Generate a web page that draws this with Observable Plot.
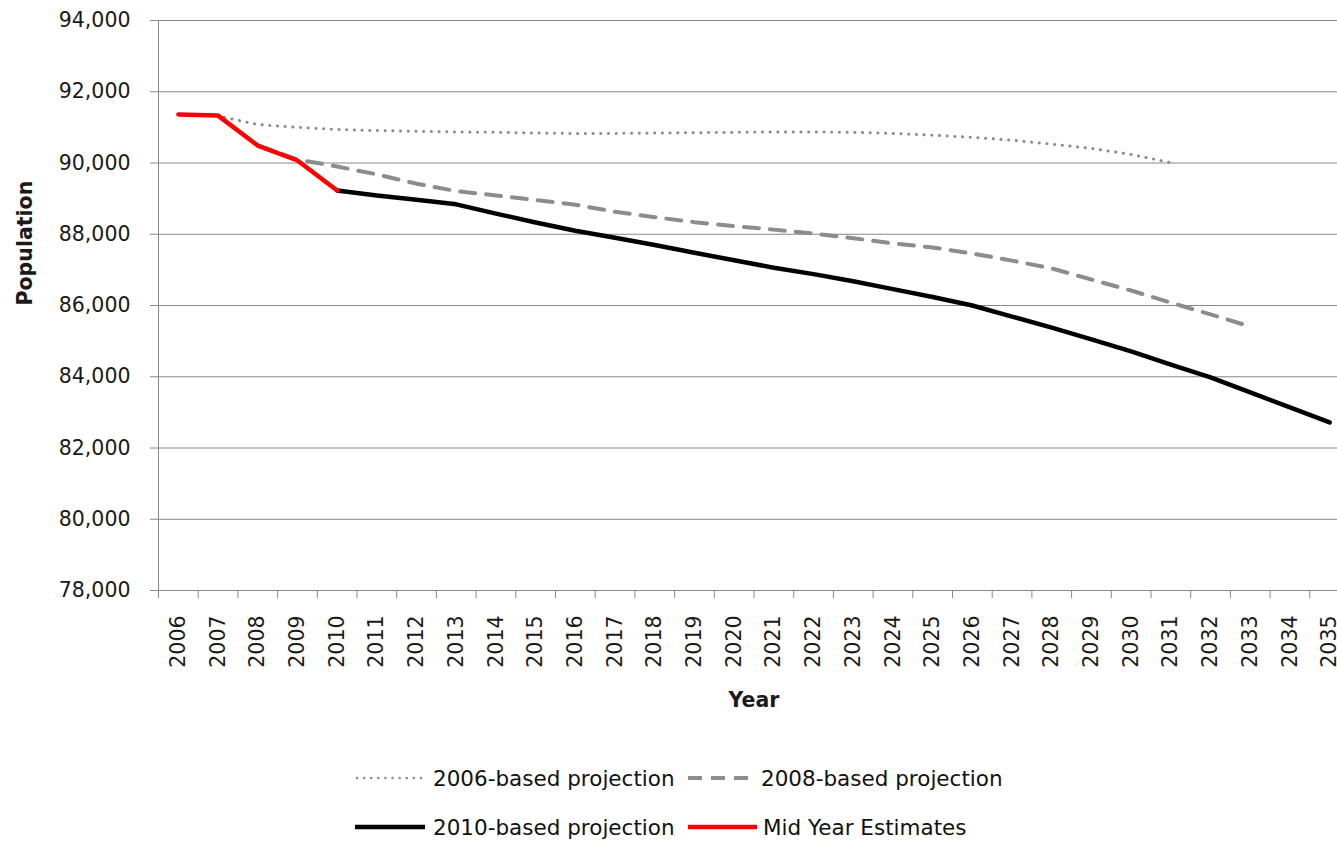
<!DOCTYPE html>
<html>
<head>
<meta charset="utf-8">
<script src="https://cdn.jsdelivr.net/npm/d3@7"></script>
<script src="https://cdn.jsdelivr.net/npm/@observablehq/plot@0.6"></script>
<style>
html, body { margin: 0; padding: 0; background: #fff; overflow: hidden; }
#wrap { position: relative; width: 1337px; height: 842px; overflow: hidden; font-family: "DejaVu Sans", sans-serif; }
#chart svg { max-width: none !important; }
#chart [aria-label="y-axis tick"], #chart [aria-label="x-axis tick"] { stroke: #888; }
.item { position: absolute; height: 30px; display: flex; align-items: center; font-size: 21.5px; color: #111; white-space: nowrap; }
.item svg { display: block; }
</style>
</head>
<body>
<div id="wrap">
  <div id="chart"></div>
  <div id="legend"></div>
</div>
<script>
// Categories (years)
const years = [2006, 2007, 2008, 2009, 2010, 2011, 2012, 2013, 2014, 2015,
               2016, 2017, 2018, 2019, 2020, 2021, 2022, 2023, 2024, 2025,
               2026, 2027, 2028, 2029, 2030, 2031, 2032, 2033, 2034, 2035];

// 2006-based projection: 2006–2031
const proj2006 = [91360, 91320, 91080, 91000, 90940, 90910, 90890, 90870, 90860, 90840,
                  90830, 90830, 90840, 90850, 90860, 90870, 90870, 90860, 90830, 90780,
                  90720, 90640, 90530, 90410, 90240, 90010];
// 2008-based projection: 2008–2033
const proj2008 = [90490, 90100, 89900, 89680, 89420, 89210, 89090, 88960, 88830, 88630,
                  88480, 88340, 88230, 88130, 88020, 87890, 87740, 87630, 87460, 87260,
                  87040, 86730, 86420, 86080, 85750, 85410];
// 2010-based projection: 2010–2035
const proj2010 = [89230, 89090, 88970, 88840, 88580, 88330, 88100, 87900, 87700, 87480,
                  87270, 87060, 86880, 86680, 86460, 86240, 86000, 85690, 85380, 85050,
                  84710, 84340, 83980, 83560, 83140, 82720];
// Mid Year Estimates: 2006–2010
const midYear = [91360, 91330, 90490, 90070, 89230];

const yTicks = [78000, 80000, 82000, 84000, 86000, 88000, 90000, 92000, 94000];

const seriesNames = ["2006-based projection", "2008-based projection", "2010-based projection", "Mid Year Estimates"];

function rows(values, startYear) {
  const s = years.indexOf(startYear);
  return values.map((v, i) => ({year: years[s + i], value: v}));
}
const d2006 = rows(proj2006, 2006);
const d2008 = rows(proj2008, 2008);
const d2010 = rows(proj2010, 2010);
const dMid = rows(midYear, 2006);

const bounds = years.map(y => y - 0.5).concat([years[years.length - 1] + 0.5]);
const fmt = d3.format(",");

const chart = Plot.plot({
  width: 1349,
  height: 730,
  marginLeft: 158,
  marginRight: 0,
  marginTop: 20,
  marginBottom: 140,
  style: {fontFamily: "'DejaVu Sans', sans-serif", fontSize: "20.5px", color: "#1a1a1a", background: "#fff", overflow: "visible"},
  x: {domain: [bounds[0], bounds[bounds.length - 1]]},
  y: {domain: [78000, 94000]},
  marks: [
    Plot.gridY(yTicks, {stroke: "#888", strokeOpacity: 1, strokeWidth: 1}),
    Plot.ruleX([bounds[0]], {stroke: "#888", strokeWidth: 1}),
    Plot.axisY(yTicks, {tickSize: 8, tickPadding: 20, tickFormat: fmt, label: null}),
    Plot.axisX(bounds, {tickSize: 8, tickFormat: () => "", label: null}),
    Plot.axisX(years, {tickSize: 0, tickPadding: 25, tickRotate: -90, tickFormat: d => String(d), label: null}),
    Plot.line(d2006, {x: "year", y: "value", stroke: "#8a8a8a", strokeWidth: 3, strokeDasharray: "0.1 7.6", strokeLinecap: "round"}),
    Plot.line(d2008, {x: "year", y: "value", stroke: "#8c8c8c", strokeWidth: 4, strokeDasharray: "15 11"}),
    Plot.line(d2010, {x: "year", y: "value", stroke: "#000", strokeWidth: 4.5}),
    Plot.line(dMid, {x: "year", y: "value", stroke: "#ff0000", strokeWidth: 4.5}),
    Plot.text(["Year"], {text: d => d, frameAnchor: "bottom", dy: 116, fontWeight: "bold", fontSize: 20.5}),
    Plot.text(["Population"], {text: d => d, frameAnchor: "left", dx: -133, rotate: -90, fontWeight: "bold", fontSize: 20.5})
  ]
});
document.getElementById("chart").appendChild(chart);

// Legend
const legendItems = [
  {name: seriesNames[0], left: 355, top: 763, w: 70, gap: 8, stroke: "#8a8a8a", width: 2.5, dash: "0.1 7", cap: "round"},
  {name: seriesNames[1], left: 688, top: 763, w: 68, gap: 5, stroke: "#8c8c8c", width: 4, dash: "14 9", cap: "butt"},
  {name: seriesNames[2], left: 355, top: 812, w: 70, gap: 8, stroke: "#000", width: 4.5, dash: null, cap: "butt"},
  {name: seriesNames[3], left: 688, top: 812, w: 69, gap: 6, stroke: "#ff0000", width: 4.5, dash: null, cap: "butt"}
];
const legend = d3.select("#legend");
for (const it of legendItems) {
  const div = legend.append("div").attr("class", "item").style("left", it.left + "px").style("top", it.top + "px");
  const sv = div.append("svg").attr("width", it.w).attr("height", 12).style("margin-right", it.gap + "px");
  sv.append("line").attr("x1", it.cap === "round" ? 2 : 0).attr("x2", it.w).attr("y1", 6).attr("y2", 6)
    .attr("stroke", it.stroke).attr("stroke-width", it.width)
    .attr("stroke-dasharray", it.dash).attr("stroke-linecap", it.cap);
  div.append("span").text(it.name);
}
</script>
</body>
</html>
